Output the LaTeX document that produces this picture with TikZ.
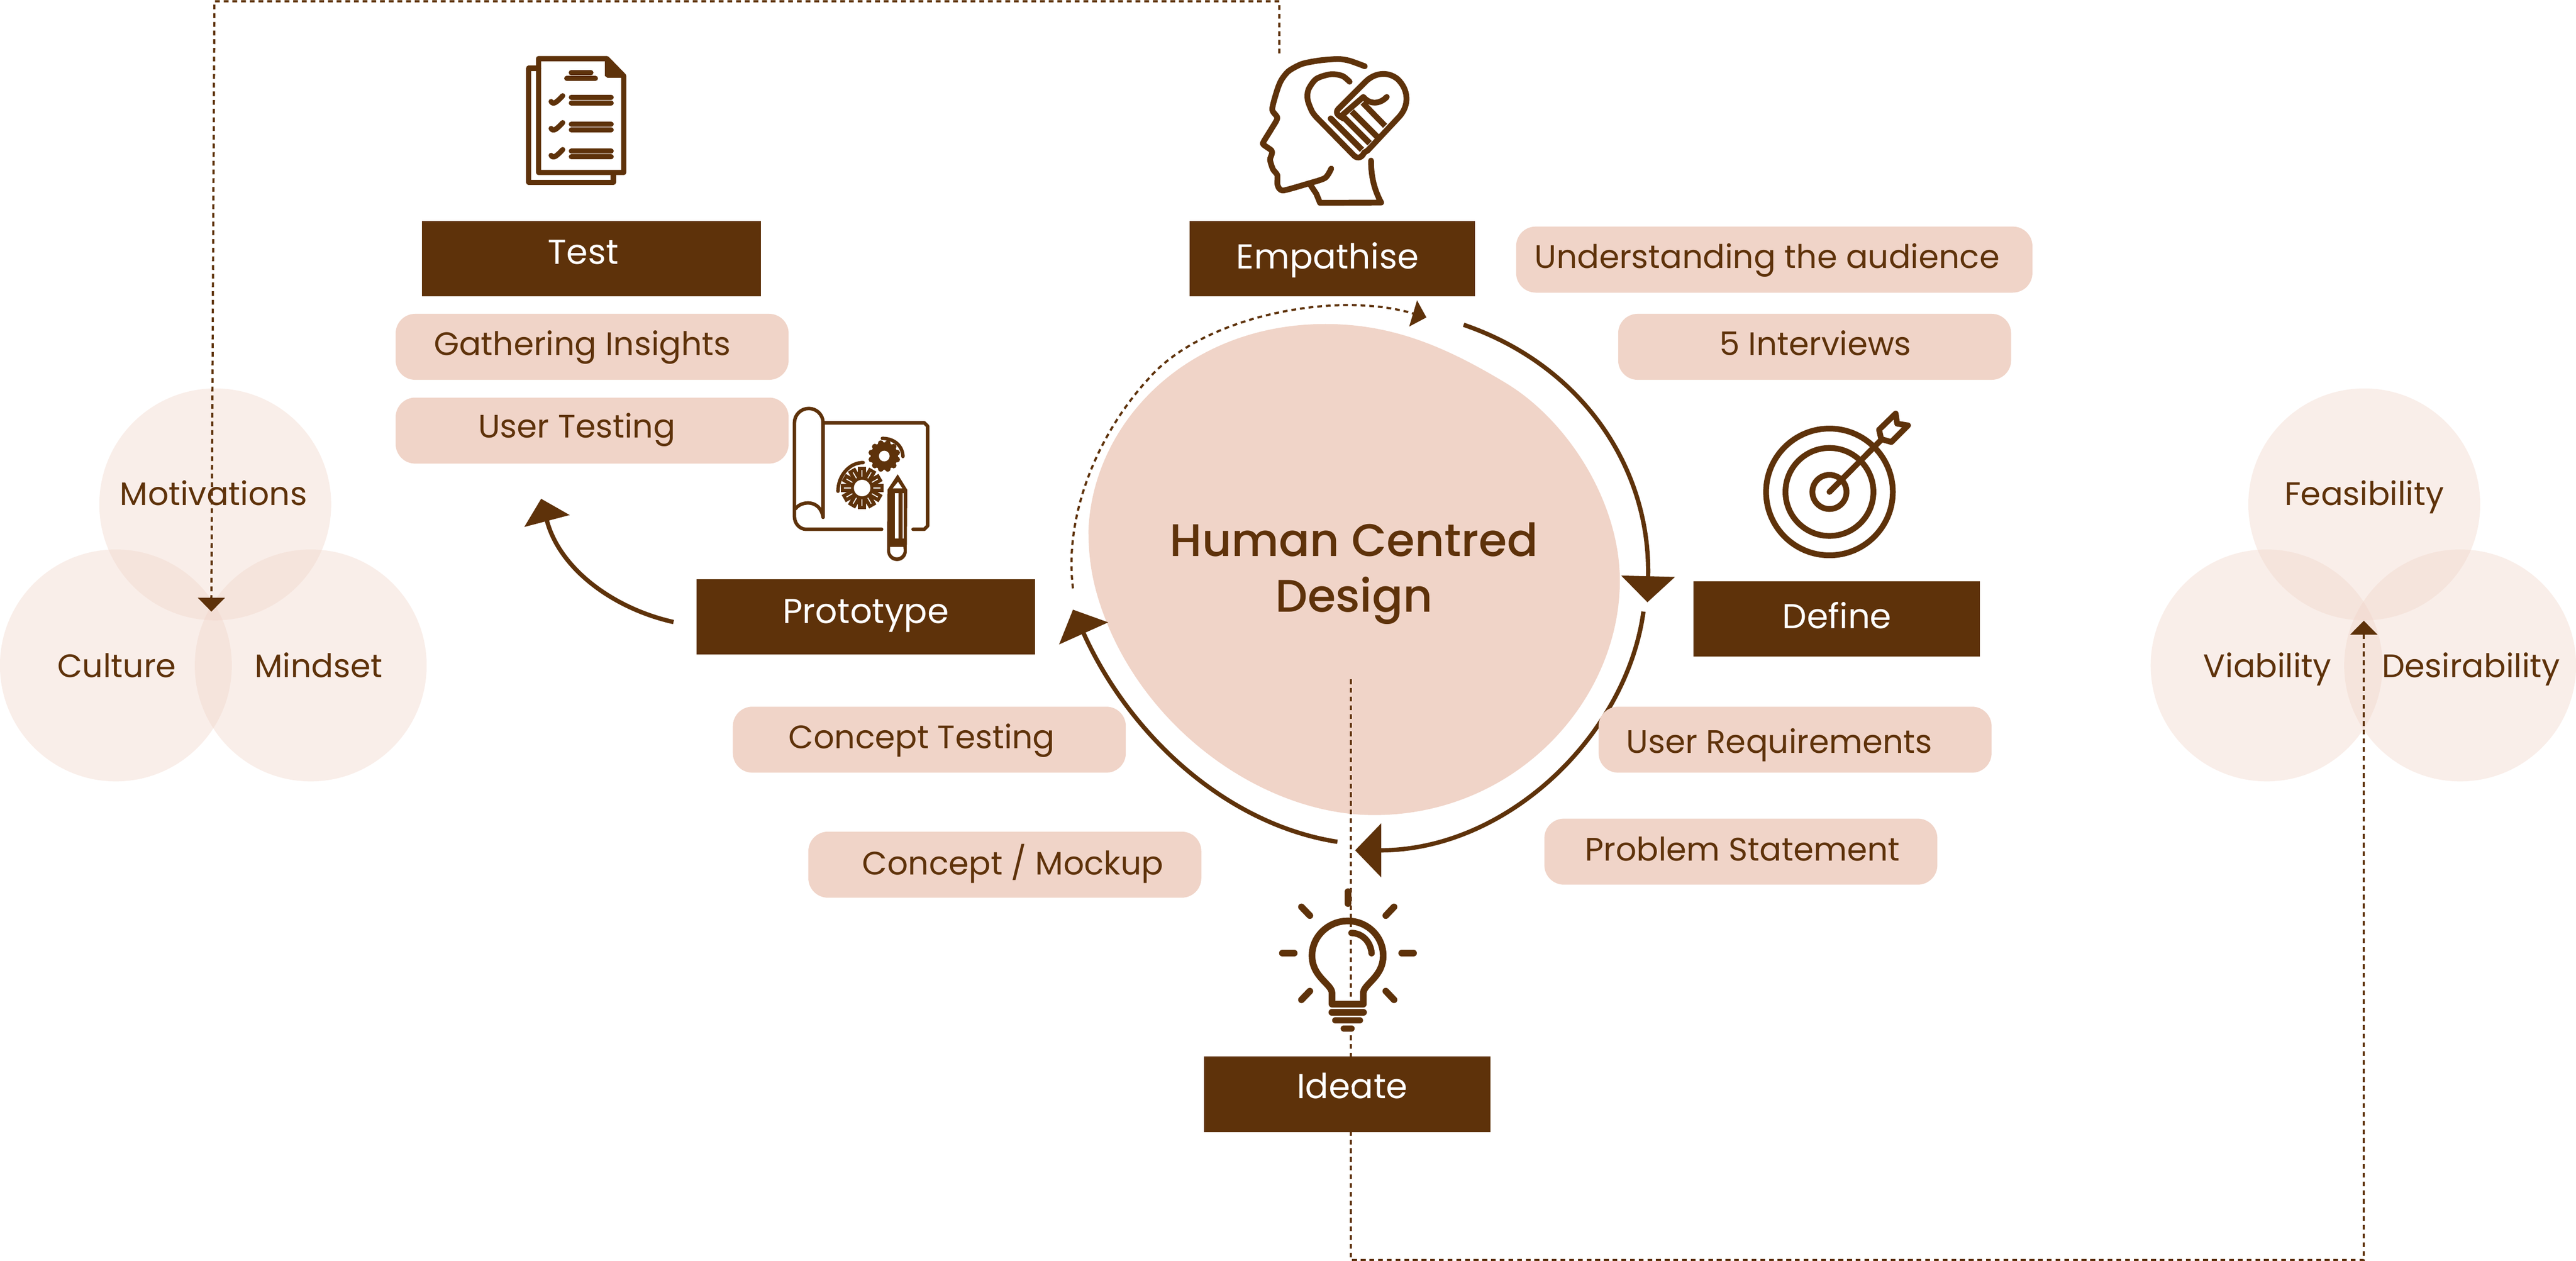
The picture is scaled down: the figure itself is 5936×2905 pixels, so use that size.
\documentclass[tikz,border=0pt]{standalone}
\usepackage{fontspec}
\setmainfont{Poppins}
\newfontfamily\titlefont{Poppins Medium}
\usetikzlibrary{arrows.meta}
\definecolor{brownd}{HTML}{5E320A}
\definecolor{blush}{HTML}{F0D4C8}
\tikzset{>=latex}
\tikzstyle{stage}=[rectangle,fill=brownd,minimum height=1.74cm,inner sep=0pt]
\tikzstyle{stagetext}=[anchor=base,text=white,inner sep=0pt,font=\fontsize{22.6}{27}\selectfont]
\tikzstyle{pill}=[rectangle,fill=blush,minimum height=1.52cm,rounded corners=0.45cm,inner sep=0pt]
\tikzstyle{softtext}=[anchor=base,text=brownd,inner sep=0pt,font=\fontsize{21.3}{25}\selectfont]
\tikzstyle{venn}=[circle,fill=blush,fill opacity=0.4,minimum size=5.34cm,inner sep=0pt]
\tikzstyle{ringarrow}=[draw=brownd,line width=0.1cm,-{Triangle[length=0.6cm,width=1.22cm]}]
\tikzstyle{feedback}=[draw=brownd,line width=0.05cm,dash pattern=on 0.11cm off 0.09cm,-{Triangle[length=0.32cm,width=0.62cm]}]
\tikzstyle{icon}=[draw=brownd,line cap=round,line join=round]

\begin{document}
\begin{tikzpicture}[x=0.01cm,y=-0.01cm]
\useasboundingbox (0,0) rectangle (5936,2905);

% middle blob
\begin{scope}[shift={(2350,650)},xscale=1.0204,yscale=0.8929]
\fill[blush] (690,108) .. controls (840,108) and (960,165) .. (1100,262) .. controls (1240,360) and (1355,570) .. (1355,770) .. controls (1355,1080) and (1120,1375) .. (800,1375) .. controls (560,1375) and (300,1170) .. (197,880) .. controls (165,790) and (155,720) .. (155,640) .. controls (165,360) and (380,108) .. (690,108) -- cycle;
\coordinate (emp1) at (1002,110);
\coordinate (def0) at (1417,826);
\coordinate (def1) at (1408,850);
\coordinate (ide0) at (757,1466);
\coordinate (ide1) at (717,1444);
\coordinate (pro0) at (120,845);
\coordinate (pro1) at (120,790);
\coordinate (emp0) at (918,91);
\draw[ringarrow] (emp1) .. controls (1270,215) and (1425,480) .. (def0);
\draw[ringarrow] (def1) .. controls (1370,1170) and (1100,1466) .. (ide0);
\draw[ringarrow] (ide1) .. controls (470,1400) and (250,1175) .. (pro0);
\draw[feedback] (pro1) .. controls (100,610) and (170,400) .. (290,250) .. controls (410,90) and (710,20) .. (emp0);
\end{scope}

\node[text=brownd,align=center,inner sep=0pt,font=\titlefont\fontsize{29.9}{36.4}\selectfont] (title) at (3120,1321) {Human Centred\\Design};

% pills with their texts
\foreach \name/\x/\y/\w/\tx/\ty/\txt in {
	understanding/4088.5/598/11.89/4072/618/{Understanding the audience},
	interviews/4181.5/799/9.05/4183/819/{5 Interviews},
	gathering/1364.5/799/9.05/1342/819/{Gathering Insights},
	usertesting/1364.5/992/9.05/1329/1009/{User Testing},
	concepttest/2141.5/1704/9.05/2124/1724/{Concept Testing},
	mockup/2315.5/1992/9.05/2334/2015/{Concept / Mockup},
	requirements/4136.5/1704/9.05/4100/1735/{User Requirements},
	problem/4011.5/1962/9.05/4015/1983/{Problem Statement}} {
	\node[pill,minimum width=\w cm] (\name) at (\x,\y) {};
	\node[softtext] (\name-t) at (\tx,\ty) {\txt};
};

% stages
\foreach \name/\x/\y/\w/\tx/\ty/\txt in {
	test/1363/596/7.8/1344/608/Test,
	empathise/3070/596/6.58/3059/619/Empathise,
	define/4232.5/1426/6.59/4233/1448/Define,
	prototype/1995/1421/7.8/1995/1436/Prototype,
	ideate/3104.5/2521/6.59/3116/2531/Ideate} {
	\node[stage,minimum width=\w cm] (\name) at (\x,\y) {};
	\node[stagetext] (\name-t) at (\tx,\ty) {\txt};
};

% venns
\foreach \name/\x/\y/\tx/\ty/\txt in {
	motivations/496/1162/492/1164/Motivations,
	culture/267/1533/269/1561/Culture,
	mindset/716/1533/734/1561/Mindset,
	feasibility/5448/1162/5448/1164/Feasibility,
	viability/5223/1533/5225/1561/Viability,
	desirability/5669/1533/5694/1561/Desirability} {
	\node[venn] (\name) at (\x,\y) {};
	\node[softtext] (\name-t) at (\tx,\ty) {\txt};
};

% long dashed feedback lines
\coordinate (headtop) at (2948,123);
\coordinate (overlap) at (487,1409);
\coordinate (blobdrop) at (3113,1565);
\coordinate (rightoverlap) at (5447,1430);
\draw[feedback] (headtop) -- (2948,3) -- (494,3) -- (overlap);
\draw[feedback] (blobdrop) -- (3113,2903) -- (5447,2903) -- (rightoverlap);

% prototype to test
\coordinate (protostart) at (1552,1433);
\coordinate (testend) at (1247,1149);
\draw[draw=brownd,line width=0.1cm,-{Triangle[length=0.53cm,width=1.06cm]}] (protostart) .. controls (1417,1403) and (1290,1313) .. (testend);

% checklist
\begin{scope}[shift={(1100,80)},scale=0.3333]
\draw[icon,line width=0.12cm] (423,952) -- (423,165) -- (895,165) -- (1012,285) -- (1012,952) -- cycle;
\draw[icon,line width=0.12cm] (423,232) -- (355,232) -- (355,1020) -- (940,1020) -- (940,960);
\fill[brownd] (882,165) -- (905,165) -- (1020,285) -- (1000,298) -- (900,298) -- (882,285) -- cycle;
\draw[icon,line width=0.11cm] (648,262) -- (786,262);
\draw[icon,line width=0.12cm] (618,302) -- (816,302);
\foreach \off in {0,186,372} {
	\draw[icon,line width=0.12cm] (510,462+\off) .. controls (525,485+\off) and (545,470+\off) .. (590,422+\off);
	\draw[icon,line width=0.12cm] (650,432+\off) -- (925,432+\off);
	\draw[icon,line width=0.12cm] (650,472+\off) -- (925,472+\off);
};
\end{scope}

% head with heart
\begin{scope}[shift={(2800,60)},scale=0.3333]
\draw[icon,line width=0.133cm] plot[smooth,tension=0.45] coordinates {(1035,278) (930,240) (850,228) (720,238) (600,262) (510,310) (460,370) (430,440) (395,575) (430,635) (390,710) (335,800) (335,820) (390,860) (392,885) (380,925) (400,990) (430,1030) (430,1090) (445,1125) (480,1135) (640,1090) (760,1050) (803,985)};
\draw[icon,line width=0.133cm] (660,1100) -- (700,1160) -- (725,1222) -- (1148,1220) .. controls (1100,1130) and (1078,1040) .. (1078,930);
\draw[icon,line width=0.133cm] plot[smooth,tension=0.5] coordinates {(930,385) (880,345) (800,333) (700,365) (645,440) (640,510) (670,590) (700,630)};
\draw[icon,line width=0.133cm] (700,630) -- (960,895) .. controls (985,920) and (1015,910) .. (1030,875) -- (1055,860) -- (1270,630) .. controls (1345,550) and (1340,440) .. (1260,365) .. controls (1190,310) and (1100,325) .. (1040,385) -- (850,575) .. controls (825,605) and (860,625) .. (890,640);
\draw[icon,line width=0.133cm] (880,615) -- (1025,490) .. controls (1070,545) and (1140,540) .. (1187,490);
\foreach \sx/\sy/\ex/\ey in {800/640/1015/855,885/627/1068/810,945/590/1120/765} {
	\draw[draw=brownd,line width=0.14cm] (\sx,\sy) -- (\ex,\ey);
};
\draw[icon,line width=0.14cm] (800,640) -- (820,660);
\draw[draw=brownd,line width=0.133cm] (1020,530) -- (1175,690);
\end{scope}

% target
\begin{scope}[shift={(3950,900)},scale=0.3333]
\draw[icon,line width=0.133cm] (797,700) circle (438);
\draw[icon,line width=0.133cm] (797,700) circle (304);
\draw[icon,line width=0.133cm] (797,700) circle (118);
\draw[icon,line width=0.133cm] (797,700) -- (1150,345);
\draw[icon,line width=0.133cm] (1140,270) -- (1255,158) -- (1265,228) -- (1340,240) -- (1225,355) -- (1155,335) -- cycle;
\end{scope}

% plan, gears and pencil
\begin{scope}[shift={(1780,900)},scale=0.3333]
\draw[icon,line width=0.08cm] (350,875) -- (350,222) arc (0:-180:99) -- (152,870) .. controls (152,920) and (190,958) .. (232,958) -- (755,958);
\draw[icon,line width=0.08cm] (972,958) -- (1050,958) -- (1073,935) -- (1073,245) -- (1050,222) -- (350,222);
\draw[icon,line width=0.08cm] (160,815) .. controls (200,760) and (330,750) .. (350,875);
\fill[brownd] (773,452) circle (95);
\foreach \a in {0,30,...,330} {
	\fill[brownd] (773,452) ++(\a+15:92) circle (20);
};
\fill[white] (773,452) circle (37);
\draw[icon,line width=0.08cm] (760,330) .. controls (840,330) and (900,380) .. (902,455);
\fill[brownd] (620,673) circle (112);
\foreach \a in {0,30,...,330} {
	\draw[draw=brownd,line width=0.19cm] (620,673) ++(\a:100) -- ++(\a:47);
	\draw[draw=white,line width=0.022cm] (620,673) ++(\a:78) -- ++(\a:47);
};
\fill[white] (620,673) circle (57);
\draw[icon,line width=0.08cm] (453,695) .. controls (453,590) and (530,497) .. (627,497);
\fill[brownd] (866,578) -- (795,685) -- (793,1110) arc (180:0:68) -- (932,685) -- cycle;
\fill[white] (832,675) -- (868,630) -- (898,675) -- cycle;
\fill[white] (845,708) rectangle (872,1022);
\fill[white] (900,708) rectangle (908,1022);
\fill[white] (813,1080) -- (813,1105) arc (180:0:47) -- (905,1080) -- cycle;
\end{scope}

% bulb
\begin{scope}[shift={(2880,1900)},scale=0.3333]
\draw[icon,line width=0.153cm] (568,1160) -- (568,1240) -- (785,1240) -- (785,1160) .. controls (790,1100) and (922,1050) .. (922,905) .. controls (922,770) and (810,665) .. (677,665) .. controls (545,665) and (430,770) .. (430,905) .. controls (430,1050) and (563,1100) .. (568,1160);
\draw[icon,line width=0.147cm] (703,748) .. controls (780,750) and (835,810) .. (842,888);
\draw[icon,line width=0.147cm] (566,1297) -- (787,1297);
\draw[icon,line width=0.153cm] (592,1352) -- (760,1352);
\draw[icon,line width=0.147cm] (650,1408) -- (703,1408);
\foreach \sx/\sy/\ex/\ey in {357/568/415/628,997/568/940/628,225/888/307/888,1050/888/1132/888,357/1210/415/1150,997/1210/940/1150,678/463/678/545} {
	\draw[icon,line width=0.153cm] (\sx,\sy) -- (\ex,\ey);
};
\end{scope}

\end{tikzpicture}
\end{document}
